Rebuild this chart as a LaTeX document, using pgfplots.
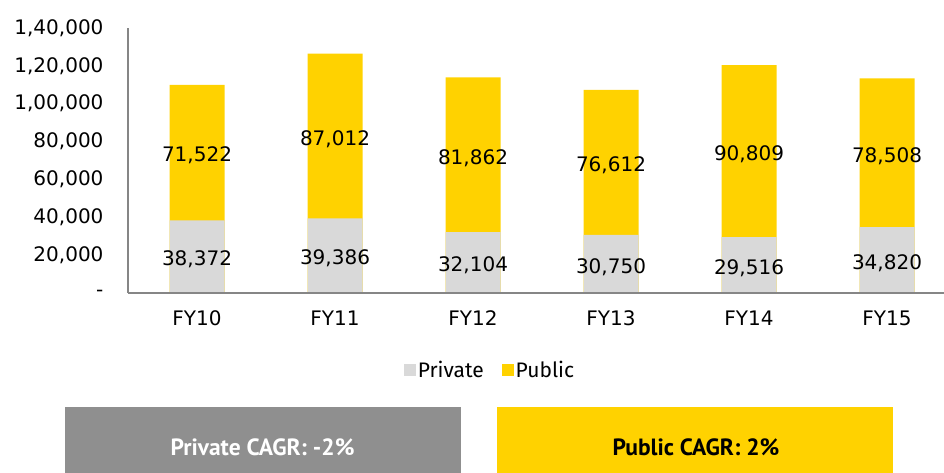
\documentclass[border=0pt]{standalone}
\usepackage{fontspec}
\setmainfont{DejaVu Sans}
\newfontfamily\legfont{Fira Sans}
\newfontfamily\boxfont{PT Sans}
\usepackage{pgfplots}
\usepackage{pgfplotstable}
\pgfplotsset{compat=1.18}
\definecolor{eyyellow}{HTML}{FFD200}
\definecolor{privgray}{HTML}{D9D9D9}
\definecolor{boxgray}{HTML}{8F8F8F}
\definecolor{axisgray}{HTML}{868686}

\pgfplotstableread{
x priv pub
0 38372 71522
1 39386 87012
2 32104 81862
3 30750 76612
4 29516 90809
5 34820 78508
}\data

\begin{document}
\begin{tikzpicture}[x=1pt,y=1pt]
\useasboundingbox (0,0) rectangle (944,473);
\begin{axis}[
  at={(128pt,180pt)}, anchor=south west,
  scale only axis, width=816pt, height=265pt,
  xmin=-0.5, xmax=5.413, ymin=0, ymax=140000,
  axis x line=bottom, axis y line=left,
  axis line style={draw=axisgray, line width=1.5pt, -},
  axis on top,
  clip=false,
  scaled y ticks=false,
  major tick length=0pt,
  xtick={0,...,5}, xticklabels={FY10,FY11,FY12,FY13,FY14,FY15},
  ytick={0,20000,40000,60000,80000,100000,120000,140000},
  yticklabels={{-\hspace{10pt}}, {20,000}, {40,000}, {60,000}, {80,000}, {1,00,000}, {1,20,000}, {1,40,000}},
  tick label style={font=\fontsize{20}{24}\selectfont, text=black},
  yticklabel style={xshift=-21pt},
  xticklabel style={yshift=-14pt},
  /pgf/number format/fixed,
  /pgf/number format/precision=0,
  /pgf/number format/1000 sep={,},
  /pgf/number format/assume math mode=true,
  legend style={at={(0.4436,-0.2906)}, anchor=center, draw=none, fill=none,
    legend columns=2, font=\legfont\fontsize{21}{24}\selectfont,
    /tikz/every even column/.append style={column sep=16pt}, inner sep=0pt},
  legend image code/.code={\fill[#1] (0pt,-6pt) rectangle (12pt,6pt);},
]
\addplot[ybar, bar width=55pt, bar shift=0pt, fill=eyyellow, draw=none, forget plot]
  table[x=x, y expr=\thisrow{priv}+\thisrow{pub}] {\data};
\addplot[ybar, bar width=55pt, bar shift=0pt, fill=privgray, draw=none, forget plot]
  table[x=x, y=priv] {\data};
\addplot[draw=none, mark=none, forget plot, nodes near coords, point meta=explicit,
  every node near coord/.append style={anchor=center, yshift=-3pt, font=\fontsize{20}{24}\selectfont, text=black}]
  table[x=x, y expr=\thisrow{priv}/2, meta=priv] {\data};
\addplot[draw=none, mark=none, forget plot, nodes near coords, point meta=explicit,
  every node near coord/.append style={anchor=center, yshift=-3pt, font=\fontsize{20}{24}\selectfont, text=black}]
  table[x=x, y expr=\thisrow{priv}+\thisrow{pub}/2, meta=pub] {\data};
\addlegendimage{fill=privgray, draw=none}
\addlegendentry{Private}
\addlegendimage{fill=eyyellow, draw=none}
\addlegendentry{Public}
\end{axis}
\fill[boxgray] (65,0) rectangle (461,66);
\fill[eyyellow] (497,0) rectangle (893,66);
\node[text=white, font=\boxfont\bfseries\fontsize{23.5}{27}\selectfont] at (262.5,25.5) {Private CAGR: -2\%};
\node[text=black, font=\boxfont\bfseries\fontsize{23.5}{27}\selectfont] at (696,25.5) {Public CAGR: 2\%};
\end{tikzpicture}
\end{document}
